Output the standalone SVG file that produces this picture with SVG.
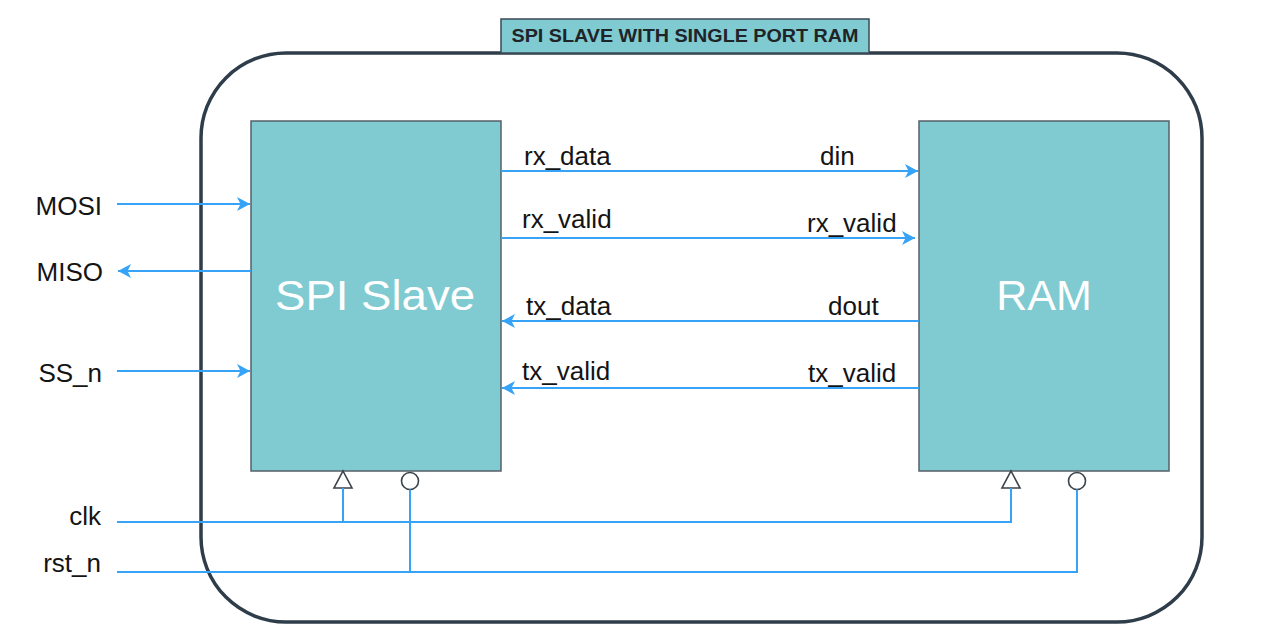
<svg xmlns="http://www.w3.org/2000/svg" width="1269" height="644" viewBox="0 0 1269 644">
<style>
.frame{fill:none;stroke:#2f3d4a;stroke-width:3.5}
.blk{fill:#80cbd1;stroke:#56606a;stroke-width:1.5}
.big{font-family:"Liberation Sans",Arial,sans-serif;font-size:43px;fill:#ffffff;text-anchor:middle}
.lbl{font-family:"Liberation Sans",Arial,sans-serif;font-size:26px;fill:#141414}
.end{text-anchor:end}
.wire{fill:none;stroke:#36a3f7;stroke-width:2}
.pin{fill:#ffffff;stroke:#3a4148;stroke-width:1.6}
.title{font-family:"Liberation Sans",Arial,sans-serif;font-size:19px;font-weight:bold;fill:#1e2428;text-anchor:middle}
</style>
<defs>
<marker id="arr" markerUnits="userSpaceOnUse" markerWidth="16" markerHeight="16" viewBox="-14 -8 16 16" refX="0" refY="0" orient="auto">
<path d="M0,0 L-13,-7 L-9.5,0 L-13,7 Z" fill="#36a3f7"/>
</marker>
</defs>
<rect width="1269" height="644" fill="#ffffff"/>
<g id="frame">
<rect class="frame" x="201" y="53" width="1001" height="569" rx="85" ry="85"/>
</g>
<g id="title">
<rect x="501" y="19" width="368" height="34" fill="#80cbd1" stroke="#3a4a55" stroke-width="1.5"/>
<text class="title" x="685" y="42" textLength="347" lengthAdjust="spacingAndGlyphs">SPI SLAVE WITH SINGLE PORT RAM</text>
</g>
<g id="spi-slave">
<rect class="blk" x="251" y="121" width="250" height="350"/>
<text class="big" x="375" y="310" textLength="200" lengthAdjust="spacingAndGlyphs">SPI Slave</text>
<path class="pin" d="M343,471 L352,488 L334,488 Z"/>
<circle class="pin" cx="410" cy="481" r="8.5"/>
</g>
<g id="ram">
<rect class="blk" x="919" y="121" width="250" height="350"/>
<text class="big" x="1044" y="310">RAM</text>
<path class="pin" d="M1011,471 L1020,488 L1002,488 Z"/>
<circle class="pin" cx="1077" cy="481" r="8.5"/>
</g>
<g id="connectors">
<line class="wire" x1="117" y1="204" x2="250" y2="204" marker-end="url(#arr)"/>
<line class="wire" x1="251" y1="271" x2="118" y2="271" marker-end="url(#arr)"/>
<line class="wire" x1="117" y1="371" x2="250" y2="371" marker-end="url(#arr)"/>
<line class="wire" x1="501" y1="171" x2="918" y2="171" marker-end="url(#arr)"/>
<line class="wire" x1="501" y1="238" x2="915" y2="238" marker-end="url(#arr)"/>
<line class="wire" x1="919" y1="321" x2="502" y2="321" marker-end="url(#arr)"/>
<line class="wire" x1="919" y1="388" x2="502" y2="388" marker-end="url(#arr)"/>
<polyline class="wire" points="117,522 1011,522 1011,488"/>
<line class="wire" x1="343" y1="488" x2="343" y2="522"/>
<polyline class="wire" points="117,572 1077,572 1077,489.5"/>
<line class="wire" x1="410" y1="489.5" x2="410" y2="572"/>
</g>
<g id="labels">
<text class="lbl end" x="102" y="215">MOSI</text>
<text class="lbl end" x="103" y="281">MISO</text>
<text class="lbl end" x="102" y="382">SS_n</text>
<text class="lbl end" x="101" y="525">clk</text>
<text class="lbl end" x="101" y="572">rst_n</text>
<text class="lbl" x="524" y="165">rx_data</text>
<text class="lbl" x="820" y="165">din</text>
<text class="lbl" x="522" y="228">rx_valid</text>
<text class="lbl" x="807" y="232">rx_valid</text>
<text class="lbl" x="526" y="315">tx_data</text>
<text class="lbl" x="828" y="315">dout</text>
<text class="lbl" x="522" y="380">tx_valid</text>
<text class="lbl" x="808" y="382">tx_valid</text>
</g>
</svg>
